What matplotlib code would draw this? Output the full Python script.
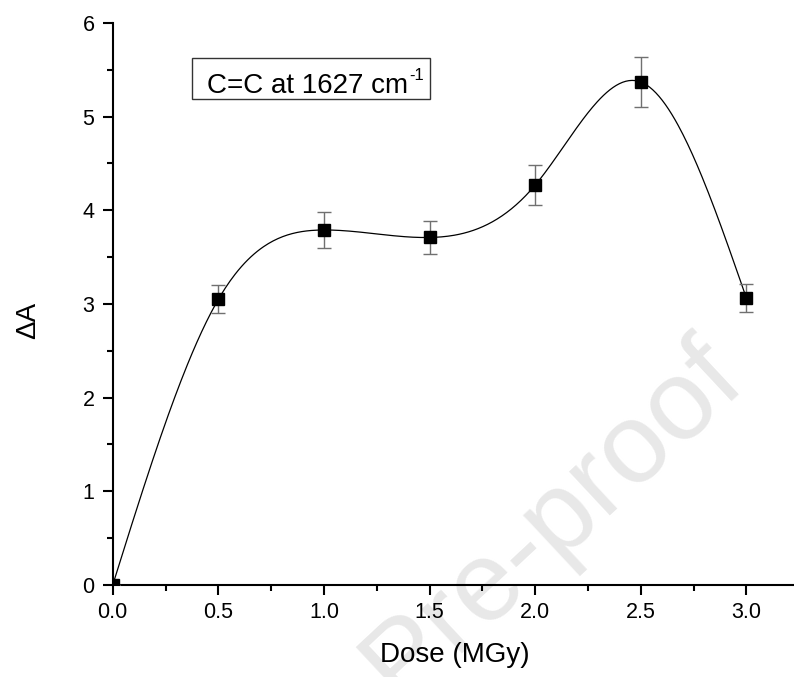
import numpy as np
import matplotlib
matplotlib.use("Agg")
from matplotlib import pyplot as plt
from matplotlib.patches import Rectangle
from matplotlib.ticker import FormatStrFormatter

# data
dose = [0.0, 0.5, 1.0, 1.5, 2.0, 2.5, 3.0]
delta_a = [0.0, 3.05, 3.79, 3.71, 4.27, 5.37, 3.06]
err = [0.0, 0.15, 0.19, 0.18, 0.21, 0.27, 0.15]


def natural_spline(x, y, n=400):
    # natural cubic spline through the points, like Origin's spline connection
    x = np.asarray(x, float)
    y = np.asarray(y, float)
    k = len(x)
    h = np.diff(x)
    A = np.zeros((k, k))
    b = np.zeros(k)
    A[0, 0] = A[-1, -1] = 1
    for i in range(1, k - 1):
        A[i, i - 1] = h[i - 1]
        A[i, i] = 2 * (h[i - 1] + h[i])
        A[i, i + 1] = h[i]
        b[i] = 6 * ((y[i + 1] - y[i]) / h[i] - (y[i] - y[i - 1]) / h[i - 1])
    m = np.linalg.solve(A, b)
    xs = np.linspace(x[0], x[-1], n)
    idx = np.clip(np.searchsorted(x, xs) - 1, 0, k - 2)
    x0, x1 = x[idx], x[idx + 1]
    hh = x1 - x0
    t1 = x1 - xs
    t0 = xs - x0
    ys = (m[idx] * t1**3 + m[idx + 1] * t0**3) / (6 * hh) \
        + (y[idx] / hh - m[idx] * hh / 6) * t1 \
        + (y[idx + 1] / hh - m[idx + 1] * hh / 6) * t0
    return xs, ys


plt.rcParams['font.family'] = ['Liberation Sans', 'DejaVu Sans']

fig = plt.figure(figsize=(7.94, 6.77), dpi=100)

# watermark behind everything
fig.text(0.696, 0.232, 'Pre-proof', fontsize=82, color='#e8e8e8', rotation=43,
         ha='center', va='center', zorder=-1)

ax = fig.add_axes([0.142, 0.136, 0.862, 0.830])
ax.set_facecolor('none')

xs, ys = natural_spline(dose, delta_a)
ax.plot(xs, ys, color='black', lw=0.9, zorder=2)
ax.errorbar(dose, delta_a, yerr=err, fmt='none', ecolor='#707070',
            elinewidth=1.0, capsize=5, capthick=1.0, zorder=3)
ax.plot(dose, delta_a, 's', color='black', markersize=8.5, zorder=4)

ax.set_xlim(0, 3.24)
ax.set_ylim(0, 6)
ax.set_xticks([0, 0.5, 1.0, 1.5, 2.0, 2.5, 3.0])
ax.set_xticks(np.arange(0.25, 3.2, 0.5), minor=True)
ax.set_yticks(range(0, 7))
ax.set_yticks(np.arange(0.5, 6, 1.0), minor=True)
ax.xaxis.set_major_formatter(FormatStrFormatter('%.1f'))

for side in ['top', 'right']:
    ax.spines[side].set_visible(False)
for side in ['left', 'bottom']:
    ax.spines[side].set_linewidth(1.5)
ax.tick_params(which='major', direction='out', length=7.2, width=1.5, labelsize=15.5)
ax.tick_params(axis='y', which='major', pad=6)
ax.tick_params(axis='x', which='major', pad=5)
ax.tick_params(which='minor', direction='out', length=4, width=1.5)

ax.set_xlabel('Dose (MGy)', fontsize=20)
ax.set_ylabel('\u0394A', fontsize=20)
ax.xaxis.set_label_coords(0.5, -0.101)
ax.yaxis.set_label_coords(-0.105, 0.47)

# label box with an Origin-style superscript
fig.add_artist(Rectangle((0.2418, 0.8538), 0.2997, 0.0606, transform=fig.transFigure,
                         fc='white', ec='#333333', lw=1.0, zorder=5))
t = fig.text(0.2607, 0.8626, 'C=C at 1627 cm', fontsize=20, ha='left', va='baseline', zorder=6)
fig.canvas.draw()
bb = t.get_window_extent()
fig.text((bb.x1 + 1) / fig.bbox.width, 0.8818, '-1', fontsize=12, ha='left', va='baseline', zorder=6)

fig.savefig('out.png', dpi=100)
